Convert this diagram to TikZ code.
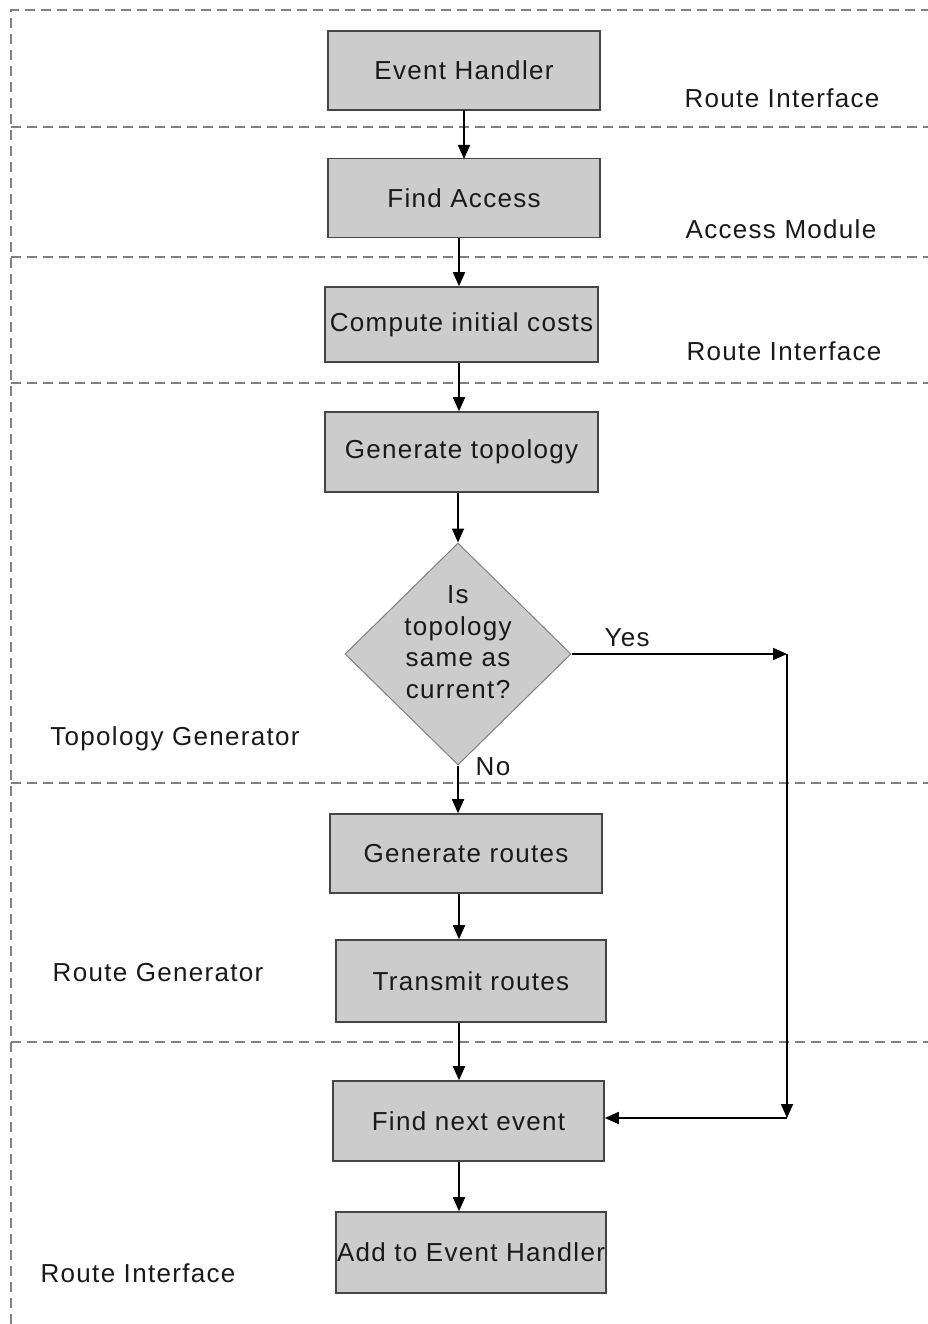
\documentclass[tikz,border=0pt]{standalone}
\usepackage{fontspec}
\setmainfont[LetterSpace=5]{Liberation Sans}
\usetikzlibrary{shapes.geometric,arrows.meta}
\definecolor{boxfill}{HTML}{CCCCCC}
\definecolor{boxline}{HTML}{454545}
\definecolor{dashgray}{HTML}{808080}
\begin{document}
\begin{tikzpicture}[x=1pt,y=-1pt,
  every node/.style={font=\fontsize{26}{31}\selectfont, text=black!90},
  procbox/.style={draw=boxline, line width=1.6pt, fill=boxfill, minimum width=272pt, minimum height=79pt, inner sep=0pt},
  decision/.style={draw=gray, line width=1pt, fill=boxfill, diamond, minimum width=226pt, minimum height=222pt, inner sep=0pt, align=center},
  sep/.style={draw=dashgray, line width=1.5pt, dash pattern=on 10pt off 6pt},
  arr/.style={draw=black, line width=1.8pt, -{Triangle[length=14pt,width=12pt]}},
  lbl/.style={inner sep=0pt}]
\useasboundingbox (0,0) rectangle (928,1324);
% swim-lane separators
\draw[sep] (11,1324) -- (11,10) -- (928,10);
\foreach \yy in {127,257,383,783,1042} \draw[sep] (11,\yy) -- (928,\yy);
% boxes
\node[procbox] (eh) at (464,70.5) {Event Handler};
\node[procbox] (fa) at (464,198) {Find Access};
\node[procbox, minimum width=273pt, minimum height=75pt] (cic) at (461.5,324.5) {Compute initial costs};
\node[procbox, minimum width=273pt, minimum height=80pt] (gt) at (461.5,452) {Generate topology};
\node[decision] (dia) at (458,654) {};
\node[lbl, align=center, font=\fontsize{26}{31.5}\selectfont] at (458,642) {Is\\topology\\same as\\current?};
\node[procbox] (gr) at (466,853.5) {Generate routes};
\node[procbox, minimum width=270pt, minimum height=82pt] (tr) at (471,981) {Transmit routes};
\node[procbox, minimum width=271pt, minimum height=80pt] (fne) at (468.5,1121) {Find next event};
\node[procbox, minimum width=270pt, minimum height=81pt] (ateh) at (471,1252.5) {Add to Event Handler};
% side labels
\node[lbl] at (782,98) {Route Interface};
\node[lbl] at (781,229) {Access Module};
\node[lbl] at (784,351) {Route Interface};
\node[lbl] at (175,739) {Topology Generator};
\node[lbl] at (158,973) {Route Generator};
\node[lbl] at (138,1273) {Route Interface};
% connectors
\draw[arr] (464,110) -- (464,159);
\draw[arr] (fa.south -| 459,0) -- (cic.north -| 459,0);
\draw[arr] (cic.south -| 459,0) -- (gt.north -| 459,0);
\draw[arr] (gt.south -| 458,0) -- (dia.north);
\draw[arr] (dia.south) -- (gr.north -| dia.south);
\draw[arr] (gr.south -| 459,0) -- (tr.north -| 459,0);
\draw[arr] (tr.south -| 459,0) -- (fne.north -| 459,0);
\draw[arr] (fne.south -| 459,0) -- (ateh.north -| 459,0);
\coordinate (yc) at (787,654);
\coordinate (yd) at (787,1118);
\draw[arr] (dia.east) -- (yc);
\draw[arr] (yc) -- (yd);
\draw[arr] (yd) -- (fne.east |- yd);
\node[lbl] at (627,638) {Yes};
\node[lbl] at (493,767) {No};
\end{tikzpicture}
\end{document}
